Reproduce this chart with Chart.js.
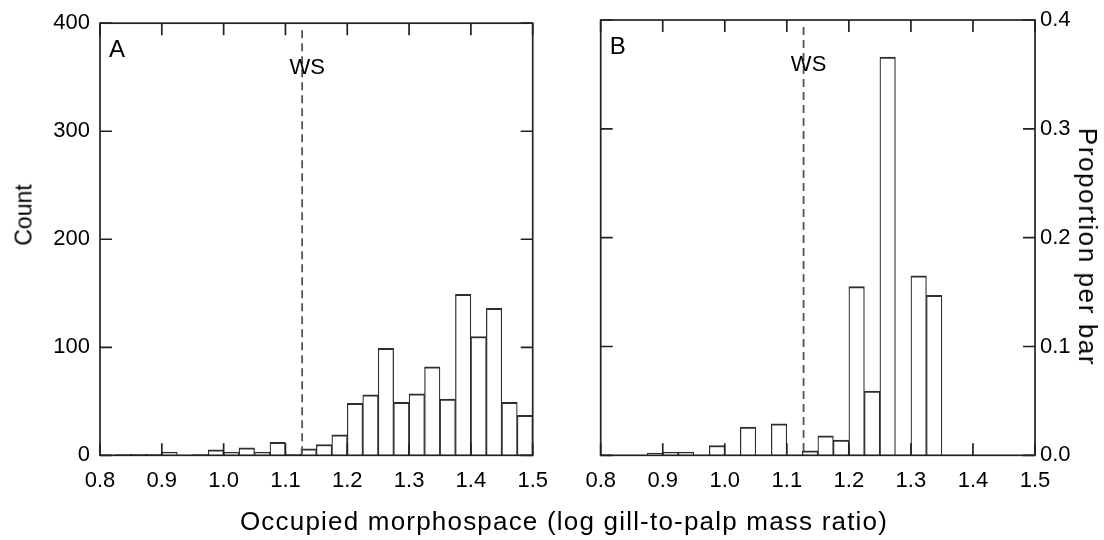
<!DOCTYPE html>
<html><head><meta charset="utf-8">
<script src="https://cdn.jsdelivr.net/npm/chart.js@4/dist/chart.umd.min.js"></script>
<style>
html,body{margin:0;padding:0;background:#fff;}
#wrap{position:relative;width:1104px;height:540px;overflow:hidden;font-family:"Liberation Sans",Arial,Helvetica,sans-serif;color:#000;}
canvas{position:absolute;top:0;}
.t{position:absolute;white-space:nowrap;line-height:1;}
</style></head><body>
<div id="wrap">
<canvas id="cA" width="560" height="540" style="left:0"></canvas>
<canvas id="cB" width="544" height="540" style="left:560px"></canvas>
<div class="t" style="left:0;width:1128px;text-align:center;top:508px;font-size:26px;letter-spacing:1.2px">Occupied morphospace (log gill-to-palp mass ratio)</div>
<div class="t" style="left:24px;top:215px;font-size:23px;transform:translate(-50%,-50%) rotate(-90deg)">Count</div>
<div class="t" style="left:1088px;top:247px;font-size:26px;letter-spacing:1.6px;transform:translate(-50%,-50%) rotate(90deg)">Proportion per bar</div>
</div>
<script>
// ---- data ----
const BIN_CENTERS = [0.8125,0.8375,0.8625,0.8875,0.9125,0.9375,0.9625,0.9875,1.0125,1.0375,1.0625,1.0875,1.1125,1.1375,1.1625,1.1875,1.2125,1.2375,1.2625,1.2875,1.3125,1.3375,1.3625,1.3875,1.4125,1.4375,1.4625,1.4875];
const COUNTS_A = [0,1,1,1,3,0,1,5,3,7,3,12,1,6,10,19,48,56,99,49,57,82,52,149,110,136,49,37];
const PROPORTION_B = [0,0,0,0.002,0.003,0.003,0,0.009,0,0.026,0,0.029,0,0.004,0.018,0.014,0.155,0.059,0.366,0,0.165,0.147,0,0,0,0,0,0];
const X_TICKS = [0.8,0.9,1.0,1.1,1.2,1.3,1.4,1.5];
const X_TICK_LABELS = ['0.8','0.9','1.0','1.1','1.2','1.3','1.4','1.5'];
const Y_TICKS_A = [0,100,200,300,400];
const Y_TICK_LABELS_A = ['0','100','200','300','400'];
const Y_TICKS_B = [0,0.1,0.2,0.3,0.4];
const Y_TICK_LABELS_B = ['0.0','0.1','0.2','0.3','0.4'];
const WS_VALUE = 1.127;
const PANEL_LETTERS = ['A','B'];

const FONT = '"Liberation Sans", Arial, Helvetica, sans-serif';

const deco = {
  id: 'deco',
  afterDatasetsDraw(chart, args, opts) {
    const {ctx, chartArea: a} = chart;
    const x = chart.scales.x, y = chart.scales.y;
    ctx.save();
    const wx = x.getPixelForValue(WS_VALUE);
    ctx.strokeStyle = '#555555'; ctx.lineWidth = 1.8; ctx.setLineDash([8,5]);
    ctx.beginPath(); ctx.moveTo(wx, a.top + 7); ctx.lineTo(wx, a.bottom); ctx.stroke();
    ctx.setLineDash([]);
    ctx.strokeStyle = '#222222'; ctx.lineWidth = 1.7;
    ctx.strokeRect(a.left, a.top, a.right - a.left, a.bottom - a.top);
    const L = 12;
    ctx.beginPath();
    x.ticks.forEach(t => {
      const p = x.getPixelForValue(t.value);
      ctx.moveTo(p, a.bottom); ctx.lineTo(p, a.bottom - L);
      ctx.moveTo(p, a.top); ctx.lineTo(p, a.top + L);
    });
    y.ticks.forEach(t => {
      const p = y.getPixelForValue(t.value);
      ctx.moveTo(a.left, p); ctx.lineTo(a.left + L, p);
      ctx.moveTo(a.right, p); ctx.lineTo(a.right - L, p);
    });
    ctx.stroke();
    ctx.fillStyle = '#000';
    ctx.textBaseline = 'alphabetic';
    ctx.font = '24px ' + FONT;
    ctx.textAlign = 'left';
    ctx.fillText(opts.letter, a.left + 9, a.top + 33.5);
    ctx.font = '22px ' + FONT;
    ctx.textAlign = 'center';
    ctx.fillText('WS', wx + 5, a.top + 50.5);
    ctx.restore();
  }
};

function makePanel(id, values, yTicks, yLabels, yMax, side, letter, pad, yWidth) {
  return new Chart(document.getElementById(id), {
    type: 'bar',
    data: {
      datasets: [{
        data: BIN_CENTERS.map((c, i) => ({x: c, y: values[i] === 0 ? null : values[i]})),
        backgroundColor: '#ffffff',
        borderColor: '#2e2e2e',
        borderWidth: {top: 2, left: 1.25, right: 1.25, bottom: 0},
        borderSkipped: false,
        categoryPercentage: 1.0,
        barPercentage: 1.0
      }]
    },
    options: {
      responsive: false,
      animation: false,
      devicePixelRatio: 1,
      layout: {padding: pad},
      plugins: {legend: {display: false}, tooltip: {enabled: false}, deco: {letter: letter}},
      scales: {
        x: {
          type: 'linear', min: 0.8, max: 1.5, offset: false,
          grid: {display: false, drawTicks: false}, border: {display: false},
          afterBuildTicks: s => { s.ticks = X_TICKS.map(v => ({value: v})); },
          afterFit: s => { s.height = 540 - 455.3; },
          ticks: {autoSkip: false, maxRotation: 0, padding: 12, color: '#000',
                  font: {family: FONT, size: 22},
                  callback: (v, i) => X_TICK_LABELS[i]}
        },
        y: {
          type: 'linear', position: side, min: 0, max: yMax,
          grid: {display: false, drawTicks: false}, border: {display: false},
          afterBuildTicks: s => { s.ticks = yTicks.map(v => ({value: v})); },
          afterFit: s => { s.width = yWidth; },
          ticks: {autoSkip: false, padding: side === 'left' ? 10 : 5, color: '#000',
                  font: {family: FONT, size: 22},
                  callback: (v, i) => yLabels[i]}
        }
      }
    },
    plugins: [deco]
  });
}

makePanel('cA', COUNTS_A, Y_TICKS_A, Y_TICK_LABELS_A, 400, 'left', PANEL_LETTERS[0],
  {top: 20, left: 0, right: 560 - 535.7, bottom: 0}, 100);
makePanel('cB', PROPORTION_B, Y_TICKS_B, Y_TICK_LABELS_B, 0.4, 'right', PANEL_LETTERS[1],
  {top: 20, left: 600.7 - 560, right: 0, bottom: 0}, 544 - (1035 - 560));
</script>
</body></html>
